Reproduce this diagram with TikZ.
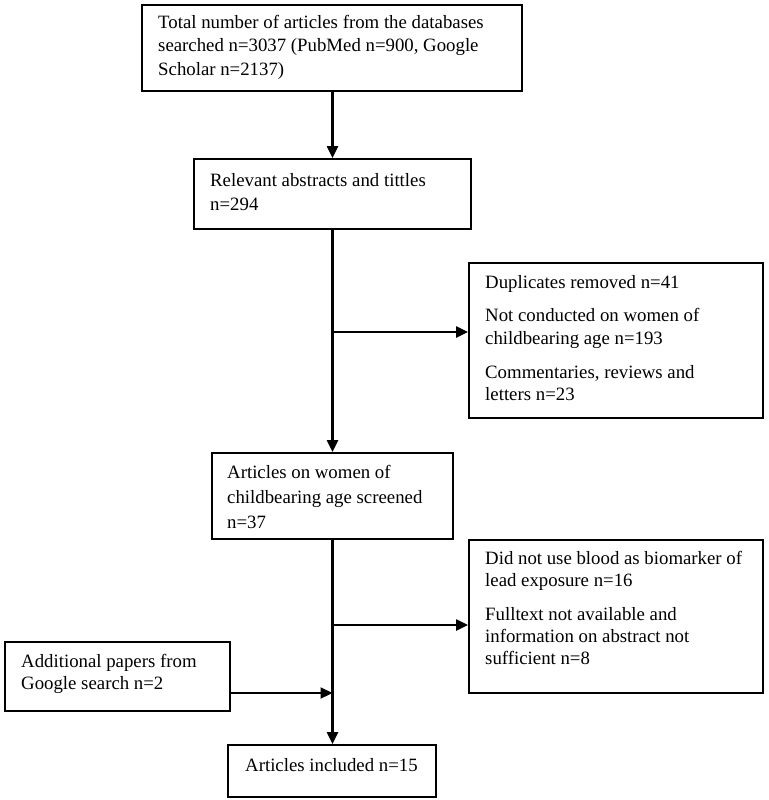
\documentclass[tikz,border=0pt]{standalone}
\usepackage{fontspec}
\setmainfont{Liberation Serif}
\usetikzlibrary{arrows.meta,calc}
\begin{document}
\begin{tikzpicture}[x=1pt,y=-1pt,
  box/.style={draw,line width=1.8pt,inner sep=0,fill=none},
  txt/.style={anchor=base west,inner sep=0,font=\fontsize{18.8}{23}\selectfont},
  conn/.style={line width=2.2pt,-{Triangle[length=12pt,width=11pt]}},
  plain/.style={line width=2.2pt}]
\useasboundingbox (0,0) rectangle (768,800);
% boxes
\node[box,minimum width=380pt,minimum height=86pt] (b1) at (332,48) {};
\node[box,minimum width=277pt,minimum height=70pt] (b2) at (332.5,194) {};
\node[box,minimum width=294pt,minimum height=155pt] (b3) at (616,340.5) {};
\node[box,minimum width=241pt,minimum height=86pt] (b4) at (332.5,496) {};
\node[box,minimum width=294pt,minimum height=153pt] (b5) at (616,616.5) {};
\node[box,minimum width=225pt,minimum height=69pt] (b6) at (117.5,676.5) {};
\node[box,minimum width=208pt,minimum height=52pt] (b7) at (332,771) {};
% texts
\node[txt] (t1a) at (158,29) {Total number of articles from the databases};
\node[txt] (t1b) at (158,52) {searched n=3037 (PubMed n=900, Google};
\node[txt] (t1c) at (158,75) {Scholar n=2137)};
\node[txt] (t2a) at (210,186) {Relevant abstracts and tittles};
\node[txt] (t2b) at (210,210) {n=294};
\node[txt] (t3a) at (485,288) {Duplicates removed n=41};
\node[txt] (t3b) at (485,321) {Not conducted on women of};
\node[txt] (t3c) at (485,344) {childbearing age n=193};
\node[txt] (t3d) at (485,378) {Commentaries, reviews and};
\node[txt] (t3e) at (485,400) {letters n=23};
\node[txt] (t4a) at (227,478) {Articles on women of};
\node[txt] (t4b) at (227,503) {childbearing age screened};
\node[txt] (t4c) at (227,528) {n=37};
\node[txt] (t5a) at (485,564) {Did not use blood as biomarker of};
\node[txt] (t5b) at (485,586) {lead exposure n=16};
\node[txt] (t5c) at (485,620) {Fulltext not available and};
\node[txt] (t5d) at (485,642) {information on abstract not};
\node[txt] (t5e) at (485,664) {sufficient n=8};
\node[txt] (t6a) at (21,667) {Additional papers from};
\node[txt] (t6b) at (21,689) {Google search n=2};
\node[txt] (t7a) at (245,771) {Articles included n=15};
% connectors
\coordinate (j1) at (332.5,332);
\coordinate (j2) at (332.5,625);
\coordinate (j3) at (332.5,693);
\draw[conn] (b1.south -| b2.north) -- (b2.north);
\draw[conn] (b2.south) -- (b4.north);
\draw[conn] (j1) -- (j1 -| b3.west);
\draw[conn] (b4.south) -- (b4.south |- b7.north);
\draw[conn] (j2) -- (j2 -| b5.west);
\draw[conn] (j3 -| b6.east) -- (j3);
\end{tikzpicture}
\end{document}
